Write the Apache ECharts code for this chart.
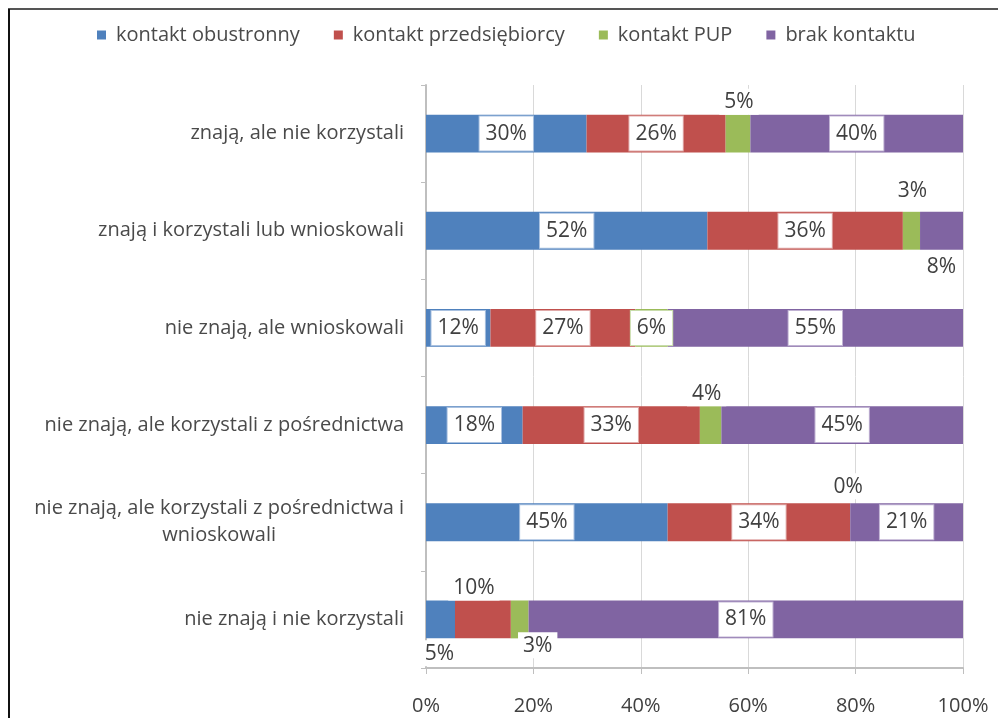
<!DOCTYPE html>
<html>
<head>
<meta charset="utf-8">
<script src="https://cdn.jsdelivr.net/npm/echarts@6/dist/echarts.min.js"></script>
<style>
  html, body { margin: 0; padding: 0; background: #fff; }
  #chart { width: 998px; height: 718px; }
</style>
</head>
<body>
<div id="chart"></div>
<script>
// kategorie (od góry)
var categories = [
  'znają, ale nie korzystali',
  'znają i korzystali lub wnioskowali',
  'nie znają, ale wnioskowali',
  'nie znają, ale korzystali z pośrednictwa',
  'nie znają, ale korzystali z pośrednictwa i wnioskowali',
  'nie znają i nie korzystali'
]
var seriesNames = ['kontakt obustronny', 'kontakt przedsiębiorcy', 'kontakt PUP', 'brak kontaktu']
var obustronny = [29.9, 52.4, 12, 18, 45, 5.4]
var przedsiebiorcy = [25.9, 36.4, 27, 33, 34, 10.4]
var pup = [4.6, 3.2, 6, 4, 0, 3.3]
var brak = [39.6, 8.0, 55, 45, 21, 80.9]
var xTicks = [0, 20, 40, 60, 80, 100]

var colors = ['#4F81BD', '#C0504D', '#9BBB59', '#8064A2']
var borderColors = ['#a9c1e0', '#e0a9a8', '#c8dcaa', '#c0b2d3']

// etykiety wyniesione poza słupek: 'seria-wiersz'
var outside = {
  '2-0': { position: 'top', distance: 0, offset: [1, 0] },
  '2-1': { position: 'top', distance: 8, offset: [1, 0] },
  '3-1': { position: 'bottom', distance: 4, offset: [0, 0] },
  '2-3': { position: 'top', distance: 0, offset: [-4, 0] },
  '2-4': { position: 'top', distance: 4, offset: [-2, 0] },
  '1-5': { position: 'top', distance: 0, offset: [-9, 0] },
  '0-5': { position: 'bottom', distance: 2, offset: [-1, 0] },
  '2-5': { position: 'bottom', distance: 0, offset: [18, -6] }
}

var values = [obustronny, przedsiebiorcy, pup, brak]

function wrap(text, max) {
  var words = text.split(' ')
  var lines = []
  var cur = ''
  words.forEach(function (w) {
    if (cur && (cur + ' ' + w).length > max) {
      lines.push(cur)
      cur = w
    } else {
      cur = cur ? cur + ' ' + w : w
    }
  })
  lines.push(cur)
  return lines.map(function (l) { return '{c|' + l + '}' }).join('\n')
}

var font = 'Open Sans'

var series = values.map(function (arr, si) {
  return {
    name: seriesNames[si],
    type: 'bar',
    stack: 'total',
    barCategoryGap: '61%',
    itemStyle: { color: colors[si] },
    label: {
      show: true,
      position: 'inside',
      formatter: function (p) { return Math.round(p.value) + '%' },
      fontFamily: font,
      fontSize: 21,
      color: '#404040',
      backgroundColor: '#fff',
      borderColor: borderColors[si],
      borderWidth: 1,
      padding: [7, 6, 6, 6]
    },
    data: arr.map(function (v, ci) {
      var o = outside[si + '-' + ci]
      if (!o) return v
      return {
        value: v,
        label: {
          position: o.position,
          distance: o.distance,
          offset: o.offset,
          borderWidth: 0,
          padding: [3, 5, 2, 5]
        }
      }
    })
  }
})

var myChart = echarts.init(document.getElementById('chart'))
myChart.setOption({
  animation: false,
  backgroundColor: '#fff',
  color: colors,
  legend: {
    left: 92,
    top: 20,
    itemWidth: 9,
    itemHeight: 9,
    itemGap: 34,
    icon: 'rect',
    textStyle: { fontFamily: font, fontSize: 20, color: '#4a4a4a', padding: [0, 0, 0, 5] },
    data: seriesNames
  },
  grid: { left: 426, right: 35, top: 85, bottom: 50 },
  xAxis: {
    type: 'value',
    min: 0,
    max: 100,
    interval: 20,
    axisLine: { show: true, lineStyle: { color: '#bfbfbf', width: 2 } },
    axisTick: { show: true, length: 6, lineStyle: { color: '#bfbfbf' } },
    splitLine: { show: true, lineStyle: { color: '#d9d9d9' } },
    axisLabel: {
      margin: 28,
      fontFamily: font,
      fontSize: 20,
      color: '#404040',
      formatter: function (v) { return v + '%' },
      customValues: xTicks
    }
  },
  yAxis: {
    type: 'category',
    inverse: true,
    data: categories,
    axisLine: { show: true, lineStyle: { color: '#bfbfbf', width: 2 } },
    axisTick: { show: true, length: 5, lineStyle: { color: '#bfbfbf' } },
    axisLabel: {
      margin: 22,
      color: '#404040',
      fontFamily: font,
      fontSize: 20,
      formatter: function (v) { return wrap(v, 42) },
      rich: {
        c: { align: 'center', fontFamily: font, fontSize: 20, color: '#4a4a4a', lineHeight: 27 }
      }
    }
  },
  graphic: [
    { type: 'line', shape: { x1: 8, y1: 9, x2: 998, y2: 9 }, style: { stroke: '#555', lineWidth: 2 }, z: 100 },
    { type: 'line', shape: { x1: 9, y1: 9, x2: 9, y2: 718 }, style: { stroke: '#111', lineWidth: 2 }, z: 100 }
  ],
  series: series
})
</script>
</body>
</html>
